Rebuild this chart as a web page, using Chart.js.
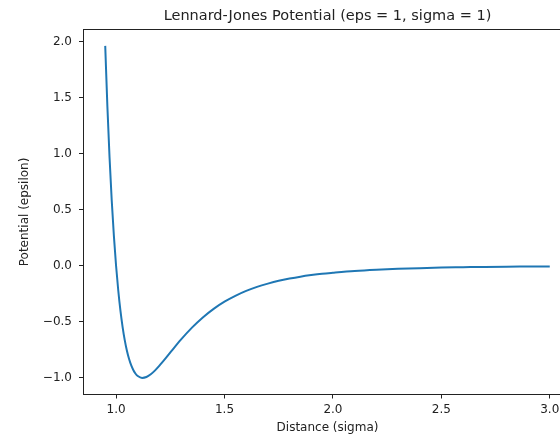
<!DOCTYPE html>
<html lang="en">
<head>
<meta charset="UTF-8">
<title>Lennard-Jones Potential</title>
<script src="https://cdn.jsdelivr.net/npm/chart.js"></script>
<style>
    html, body { margin: 0; padding: 0; background: #fff; }
    #wrap { width: 560px; height: 439px; overflow: hidden; position: relative; }
    canvas { position: absolute; left: 0; top: 0; }
</style>
</head>
<body>
<div id="wrap">
    <canvas id="lj-chart" width="580" height="439"></canvas>
</div>
<script>
    // distance r (in sigma) and potential V (in epsilon)
    const distance = [0.95, 0.96, 0.97, 0.98, 0.99, 1.00, 1.01, 1.02, 1.03, 1.04, 1.05, 1.06, 1.07, 1.08, 1.09,
        1.10, 1.12, 1.14, 1.16, 1.18, 1.20, 1.23, 1.26, 1.30, 1.35, 1.40, 1.45, 1.50, 1.55, 1.60, 1.65,
        1.70, 1.75, 1.80, 1.85, 1.90, 1.95, 2.00, 2.10, 2.20, 2.30, 2.40, 2.50, 2.60, 2.70, 2.80, 2.90, 3.00];
    const potential = [1.961, 1.418, 0.963, 0.582, 0.264, 0.000, -0.218, -0.398, -0.544, -0.663, -0.758, -0.832, -0.889, -0.932, -0.963,
        -0.983, -1.000, -0.992, -0.968, -0.933, -0.891, -0.822, -0.750, -0.657, -0.552, -0.461, -0.384, -0.320, -0.268, -0.224, -0.188,
        -0.159, -0.134, -0.114, -0.097, -0.083, -0.071, -0.062, -0.046, -0.035, -0.027, -0.021, -0.016, -0.013, -0.010, -0.008, -0.007, -0.006];
    const xTicks = [1.0, 1.5, 2.0, 2.5, 3.0];
    const yTicks = [-1.0, -0.5, 0.0, 0.5, 1.0, 1.5, 2.0];

    const points = distance.map((r, i) => ({ x: r, y: potential[i] }));
    const fmt = v => v.toFixed(1).replace('-', '\u2212');
    const ink = '#222';

    // matplotlib style box around the axes
    const frame = {
        id: 'frame',
        afterDraw(chart) {
            const a = chart.chartArea, c = chart.ctx;
            c.save();
            c.strokeStyle = ink;
            c.lineWidth = 1;
            c.strokeRect(Math.round(a.left) + 0.5, Math.round(a.top) + 0.5,
                Math.round(a.right - a.left), Math.round(a.bottom - a.top));
            c.restore();
        }
    };

    Chart.defaults.font.family = 'DejaVu Sans';
    Chart.defaults.color = ink;

    new Chart(document.getElementById('lj-chart'), {
        type: 'line',
        data: {
            datasets: [{
                data: points,
                borderColor: '#1f77b4',
                borderWidth: 2,
                pointRadius: 0,
                cubicInterpolationMode: 'monotone',
                fill: false
            }]
        },
        options: {
            responsive: false,
            animation: false,
            layout: { padding: { left: 0, right: 8, top: 0, bottom: 0 } },
            plugins: {
                legend: { display: false },
                tooltip: { enabled: false },
                title: {
                    display: true,
                    fullSize: false,
                    text: 'Lennard-Jones Potential (eps = 1, sigma = 1)',
                    color: ink,
                    font: { size: 14.5, weight: 'normal' },
                    padding: { top: 8, bottom: 4 }
                }
            },
            scales: {
                x: {
                    type: 'linear',
                    min: 0.8475,
                    max: 3.1025,
                    afterBuildTicks: s => { s.ticks = xTicks.map(v => ({ value: v })); },
                    afterFit: s => { s.height = 44.5; },
                    grid: { display: true, drawOnChartArea: false, tickLength: 4, color: ink },
                    border: { color: ink },
                    ticks: { callback: fmt, font: { size: 12 }, padding: 4, maxRotation: 0 },
                    title: { display: true, text: 'Distance (sigma)', font: { size: 12 }, padding: { top: 0, bottom: 4 } }
                },
                y: {
                    type: 'linear',
                    min: -1.148,
                    max: 2.108,
                    afterBuildTicks: s => { s.ticks = yTicks.map(v => ({ value: v })); },
                    afterFit: s => { s.width = 83; },
                    grid: { display: true, drawOnChartArea: false, tickLength: 4, color: ink },
                    border: { color: ink },
                    ticks: { callback: fmt, font: { size: 12 }, padding: 7 },
                    title: { display: true, text: 'Potential (epsilon)', font: { size: 12 }, padding: { top: 18, bottom: 0 } }
                }
            }
        },
        plugins: [frame]
    });
</script>
</body>
</html>
